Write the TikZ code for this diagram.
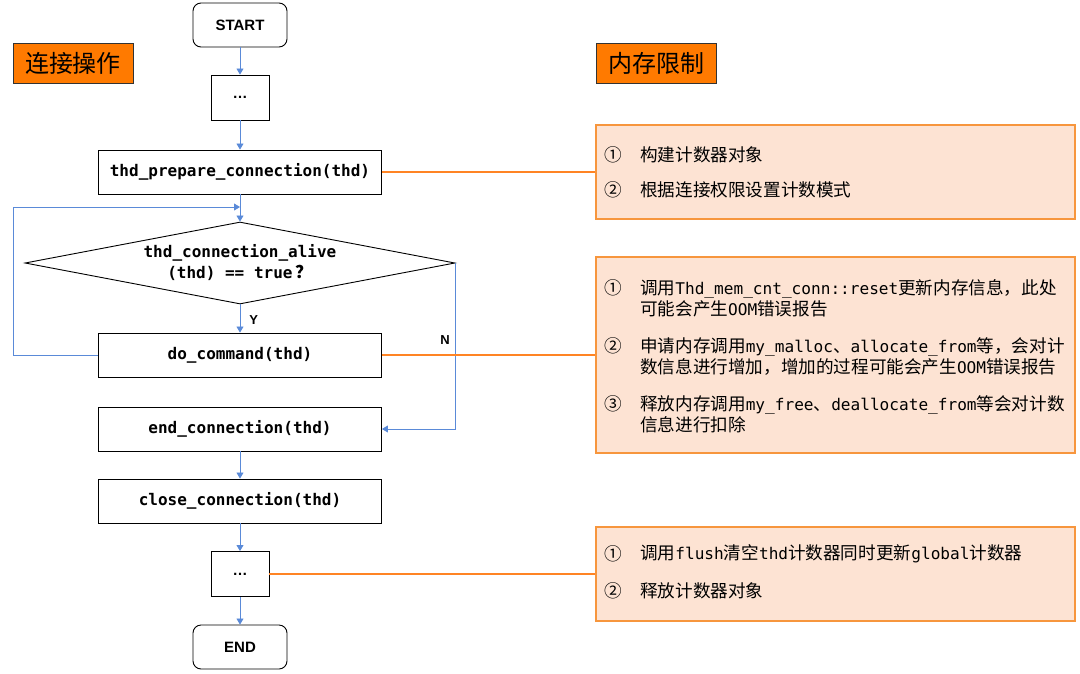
\documentclass[tikz,border=0pt]{standalone}
\usepackage{fontspec}
\setmainfont{Noto Sans CJK SC}
\newfontfamily\cjkfnt{Noto Sans CJK SC}
\setsansfont{Liberation Sans}
\setmonofont[Scale=0.915]{DejaVu Sans Mono}
\usetikzlibrary{shapes.geometric,arrows.meta}
\definecolor{flowblue}{HTML}{5A8AD8}
\definecolor{connorange}{HTML}{FF8424}
\definecolor{tagorange}{HTML}{FF7A00}
\definecolor{notefill}{HTML}{FDE3D3}
\definecolor{noteborder}{HTML}{F7963D}
\newcommand\flowfnt{\fontsize{17.5}{21}\selectfont\ttfamily\bfseries}
\newcommand\notefnt{\fontsize{17.6}{21}\selectfont}
\begin{document}
\begin{tikzpicture}[x=1pt,y=-1pt,
  flow/.style={draw=black, line width=0.9pt, fill=white, font=\flowfnt, inner sep=0pt},
  flowbox/.style={flow, minimum width=283pt, minimum height=44pt},
  dotbox/.style={flow, minimum width=58pt, minimum height=45pt, font=\sffamily\bfseries\fontsize{15}{17}\selectfont},
  term/.style={flow, rounded corners=8pt, minimum width=94pt, minimum height=44pt, font=\sffamily\bfseries\fontsize{15}{17}\selectfont},
  arr/.style={draw=flowblue, line width=0.8pt, -{Triangle[width=7pt,length=6pt]}},
  conn/.style={draw=connorange, line width=1.5pt},
  tag/.style={draw=black!80, line width=0.8pt, fill=tagorange, minimum width=120pt, minimum height=40pt, inner sep=0pt, font=\fontsize{24}{28}\selectfont},
  note/.style={draw=noteborder, line width=1.2pt, fill=notefill, minimum width=479pt, inner sep=0pt},
  num/.style={font=\notefnt, inner sep=0pt},
  notetext/.style={font=\notefnt, inner sep=0pt, anchor=west, align=left},
  lbl/.style={font=\sffamily\bfseries\fontsize{13}{15}\selectfont, inner sep=0pt}]
\useasboundingbox (0,0) rectangle (1080,673);
\fill[white] (0,0) rectangle (1080,673);

% tags
\node[tag] (tagl) at (73,63) {连接操作};
\node[tag] (tagr) at (656,63) {内存限制};

% flow nodes
\node[term] (start) at (240,25) {START};
\node[dotbox] (dots1) at (240,97.5) {…};
\node[flowbox] (prep) at (240,172) {thd\_prepare\_connection(thd)};
\node[flow, diamond, aspect=5.2, minimum width=430pt, minimum height=82pt, align=center] (alive) at (240,263)
  {thd\_connection\_alive\\(thd) == true\,{\cjkfnt\bfseries ？}};
\node[flowbox] (docmd) at (240,355) {do\_command(thd)};
\node[flowbox] (endc) at (240,429) {end\_connection(thd)};
\node[flowbox] (closec) at (240,501) {close\_connection(thd)};
\node[dotbox] (dots2) at (240,574) {…};
\node[term] (endn) at (240,647) {END};

\coordinate (merge) at (240,207);

% flow connectors
\draw[arr] (start) -- (dots1);
\draw[arr] (dots1) -- (prep);
\draw[arr] (prep) -- (alive);
\draw[arr] (alive) -- node[lbl, right=9pt, pos=0.55] (ylab) {Y} (docmd);
\draw[arr] (docmd.west) -- ++(-85pt,0) |- (merge);
\draw[arr] (alive.east) |- (endc.east);
\node[lbl] (nlab) at (445,340) {N};
\draw[arr] (endc) -- (closec);
\draw[arr] (closec) -- (dots2);
\draw[arr] (dots2) -- (endn);

% notes
\node[note, minimum height=94pt] (note1) at (835.5,172) {};
\node[note, minimum height=196pt] (note2) at (835.5,355) {};
\node[note, minimum height=94pt] (note3) at (835.5,574) {};

\draw[conn] (prep.east) -- (note1.west);
\draw[conn] (docmd.east) -- (note2.west);
\draw[conn] (dots2.east) -- (note3.west);

% note 1
\node[num] (n11) at (613,155) {①};
\node[notetext] (t11) at (640,155) {构建计数器对象};
\node[num] (n12) at (613,190) {②};
\node[notetext] (t12) at (640,190) {根据连接权限设置计数模式};

% note 2
\node[num] (n21) at (613,288) {①};
\node[notetext] (t21) at (640,298.5) {调用\texttt{Thd\_mem\_cnt\_conn::reset}更新内存信息，此处\\可能会产生\texttt{OOM}错误报告};
\node[num] (n22) at (613,346) {②};
\node[notetext] (t22) at (640,356.5) {申请内存调用\texttt{my\_malloc}、\texttt{allocate\_from}等，会对计\\数信息进行增加，增加的过程可能会产生\texttt{OOM}错误报告};
\node[num] (n23) at (613,404) {③};
\node[notetext] (t23) at (640,414.5) {释放内存调用\texttt{my\_free}、\texttt{deallocate\_from}等会对计数\\信息进行扣除};

% note 3
\node[num] (n31) at (613,554) {①};
\node[notetext] (t31) at (640,554) {调用\texttt{flush}清空\texttt{thd}计数器同时更新\texttt{global}计数器};
\node[num] (n32) at (613,591) {②};
\node[notetext] (t32) at (640,591) {释放计数器对象};
\end{tikzpicture}
\end{document}
